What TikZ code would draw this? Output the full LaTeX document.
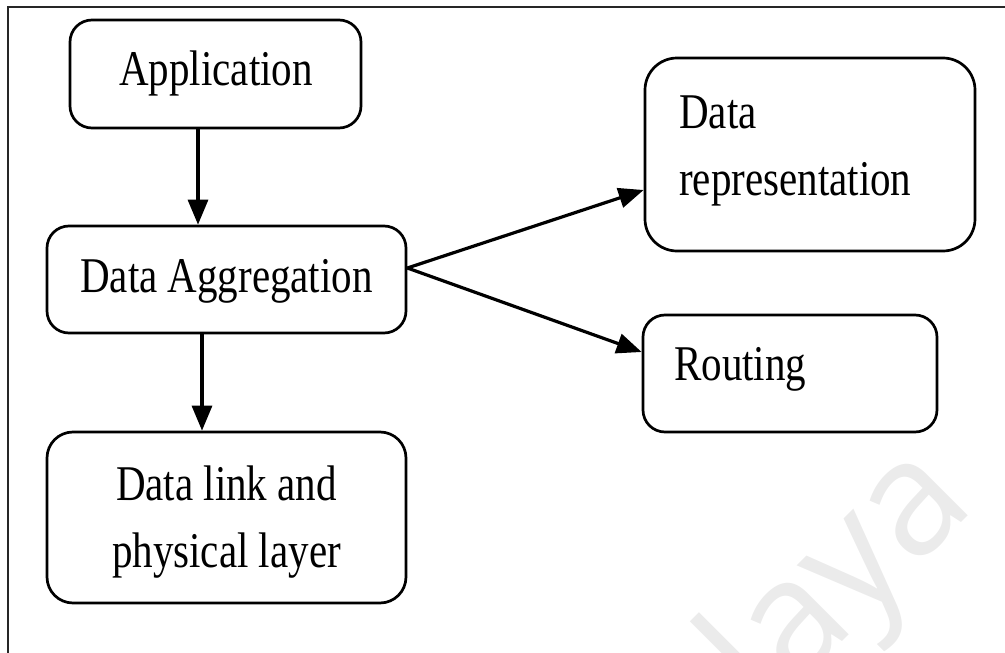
\documentclass[tikz,border=0pt]{standalone}
\usepackage{fontspec}
\setmainfont{Liberation Serif}[FakeStretch=0.82]
\newfontfamily\wmfont{Open Sans}
\usetikzlibrary{arrows.meta}
\begin{document}
\begin{tikzpicture}[x=1pt,y=-1pt,
  box/.style={draw=black,line width=2.7pt,rounded corners=22pt,inner sep=0pt},
  lbl/.style={inner sep=0pt,font=\fontsize{50}{67}\selectfont},
  arr/.style={line width=3.2pt,-{Triangle[length=25pt,width=20pt]}},
  frameline/.style={line width=1.8pt,black!85}]
\useasboundingbox (0,0) rectangle (1005,653);
\clip (0,0) rectangle (1005,653);
% watermark
\node[inner sep=0pt,anchor=base east,rotate=45,text=black!8,font=\wmfont\fontsize{160}{160}\selectfont] (wm) at (978,506) {Malaya};
% frame
\coordinate (ftl) at (8,7);
\coordinate (ftr) at (1005,7);
\coordinate (fbl) at (8,653);
\draw[frameline] (fbl) -- (ftl) -- (ftr);
% boxes
\node[box,minimum width=291pt,minimum height=108pt] (app) at (215.5,74) {};
\node[box,minimum width=359pt,minimum height=107pt] (da) at (226.5,279.5) {};
\node[box,minimum width=359pt,minimum height=171pt,rounded corners=26pt] (dl) at (226.5,517.5) {};
\node[box,minimum width=330pt,minimum height=193pt,rounded corners=32pt] (rep) at (810,154.5) {};
\node[box,minimum width=294pt,minimum height=117pt] (rt) at (790,373.5) {};
% labels
\node[lbl,anchor=base] (appt) at (216,85) {Application};
\node[lbl,anchor=base] (dat) at (226.5,292) {Data Aggregation};
\node[lbl,anchor=base,align=center] (dlt) at (226.5,567) {Data link and\\physical layer};
\node[lbl,anchor=base west,align=left] (rept) at (679,195) {Data\\representation};
\node[lbl,anchor=base west] (rtt) at (674,380) {Routing};
% connectors
\draw[arr] ([xshift=-17.5pt]app.south) -- ([xshift=-28.5pt]da.north);
\draw[arr] ([xshift=-24.5pt]da.south) -- ([xshift=-24.5pt]dl.north);
\draw[arr] ([yshift=11.5pt]da.east) -- ([yshift=-35.5pt]rep.west);
\draw[arr] ([yshift=11.5pt]da.east) -- ([yshift=21.5pt]rt.west);
\end{tikzpicture}
\end{document}
